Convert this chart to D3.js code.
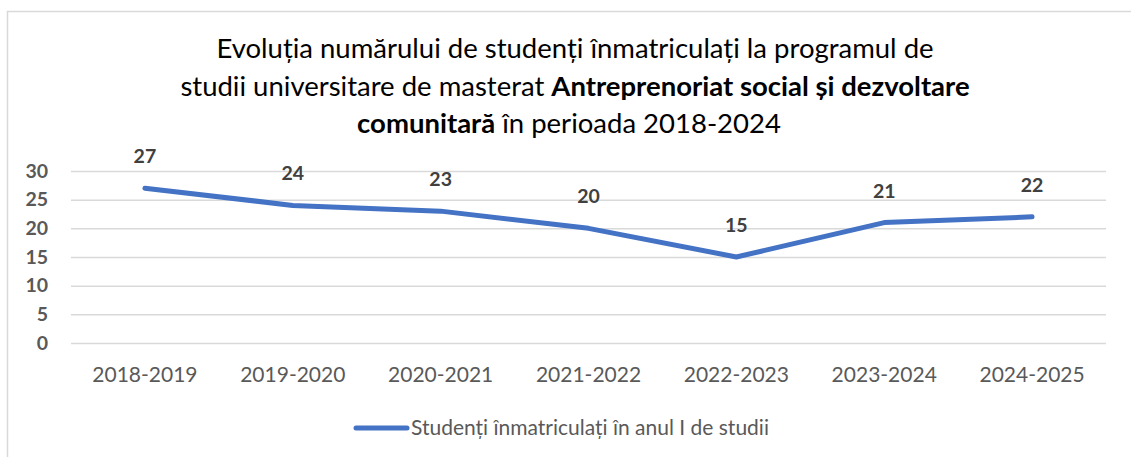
<!DOCTYPE html>
<html>
<head>
<meta charset="utf-8">
<script src="https://cdn.jsdelivr.net/npm/d3@7"></script>
<style>
  body { margin: 0; background: #fff; }
  text { font-family: Lato, "Open Sans", sans-serif; }
</style>
</head>
<body>
<div id="chart"></div>
<script>
// Data
var categories = ["2018-2019", "2019-2020", "2020-2021", "2021-2022", "2022-2023", "2023-2024", "2024-2025"];
var values = [27, 24, 23, 20, 15, 21, 22];
var yTicks = [0, 5, 10, 15, 20, 25, 30];
var seriesName = "Studenți înmatriculați în anul I de studii";

var width = 1131, height = 457;
var margin = {top: 171, right: 25, bottom: 114, left: 71};

var svg = d3.select("#chart").append("svg")
  .attr("width", width)
  .attr("height", height);

// chart frame
svg.append("rect")
  .attr("x", 7.5).attr("y", 11.5)
  .attr("width", 1140).attr("height", 460)
  .attr("fill", "#fff")
  .attr("stroke", "#d9d9d9")
  .attr("stroke-width", 1.5);

// Title
var title = svg.append("text")
  .attr("text-anchor", "middle")
  .attr("font-size", 27.5)
  .attr("fill", "#000");
title.append("tspan").attr("x", 575).attr("y", 58)
  .text("Evoluția numărului de studenți înmatriculați la programul de");
title.append("tspan").attr("x", 575).attr("y", 96)
  .text("studii universitare de masterat ");
title.append("tspan").attr("font-weight", "bold")
  .text("Antreprenoriat social și dezvoltare");
title.append("tspan").attr("x", 569).attr("y", 133).attr("font-weight", "bold")
  .text("comunitară");
title.append("tspan").text(" în perioada 2018-2024");

// Scales
var x = d3.scaleBand()
  .domain(categories)
  .range([margin.left, width - margin.right]);

var y = d3.scaleLinear()
  .domain([0, 30])
  .range([height - margin.bottom, margin.top]);

// Y axis with gridlines
var yAxis = svg.append("g")
  .attr("transform", "translate(" + margin.left + ",0)")
  .call(d3.axisLeft(y).tickValues(yTicks).tickSize(-(width - margin.left - margin.right)).tickPadding(23));
yAxis.select(".domain").remove();
yAxis.selectAll(".tick line").attr("stroke", "#d9d9d9").attr("stroke-width", 1.5);
yAxis.selectAll(".tick text")
  .attr("font-size", 19.5)
  .attr("font-weight", "bold")
  .attr("fill", "#595959")
  .attr("font-family", "Lato, sans-serif");

// X axis labels
var xAxis = svg.append("g")
  .attr("transform", "translate(0," + (height - margin.bottom) + ")")
  .call(d3.axisBottom(x).tickSize(0).tickPadding(24));
xAxis.select(".domain").remove();
xAxis.selectAll(".tick text")
  .attr("font-size", 21)
  .attr("fill", "#595959")
  .attr("font-family", "Lato, sans-serif");

// Line
var line = d3.line()
  .x(function(d, i) { return x(categories[i]) + x.bandwidth() / 2; })
  .y(function(d) { return y(d); });

svg.append("path")
  .datum(values)
  .attr("d", line)
  .attr("fill", "none")
  .attr("stroke", "#4472c4")
  .attr("stroke-width", 5)
  .attr("stroke-linecap", "round")
  .attr("stroke-linejoin", "round");

// Data labels
svg.selectAll(".label")
  .data(values)
  .enter().append("text")
    .attr("class", "label")
    .attr("x", function(d, i) { return x(categories[i]) + x.bandwidth() / 2; })
    .attr("y", function(d) { return y(d) - 25; })
    .attr("text-anchor", "middle")
    .attr("font-size", 19.5)
    .attr("font-weight", "bold")
    .attr("fill", "#404040")
    .text(function(d) { return d; });

// Legend
var legend = svg.append("g").attr("transform", "translate(356,428)");
legend.append("line")
  .attr("x1", 0).attr("x2", 51)
  .attr("stroke", "#4472c4")
  .attr("stroke-width", 5)
  .attr("stroke-linecap", "round");
legend.append("text")
  .attr("x", 55)
  .attr("dy", "0.35em")
  .attr("font-size", 21)
  .attr("fill", "#595959")
  .text(seriesName);
</script>
</body>
</html>
